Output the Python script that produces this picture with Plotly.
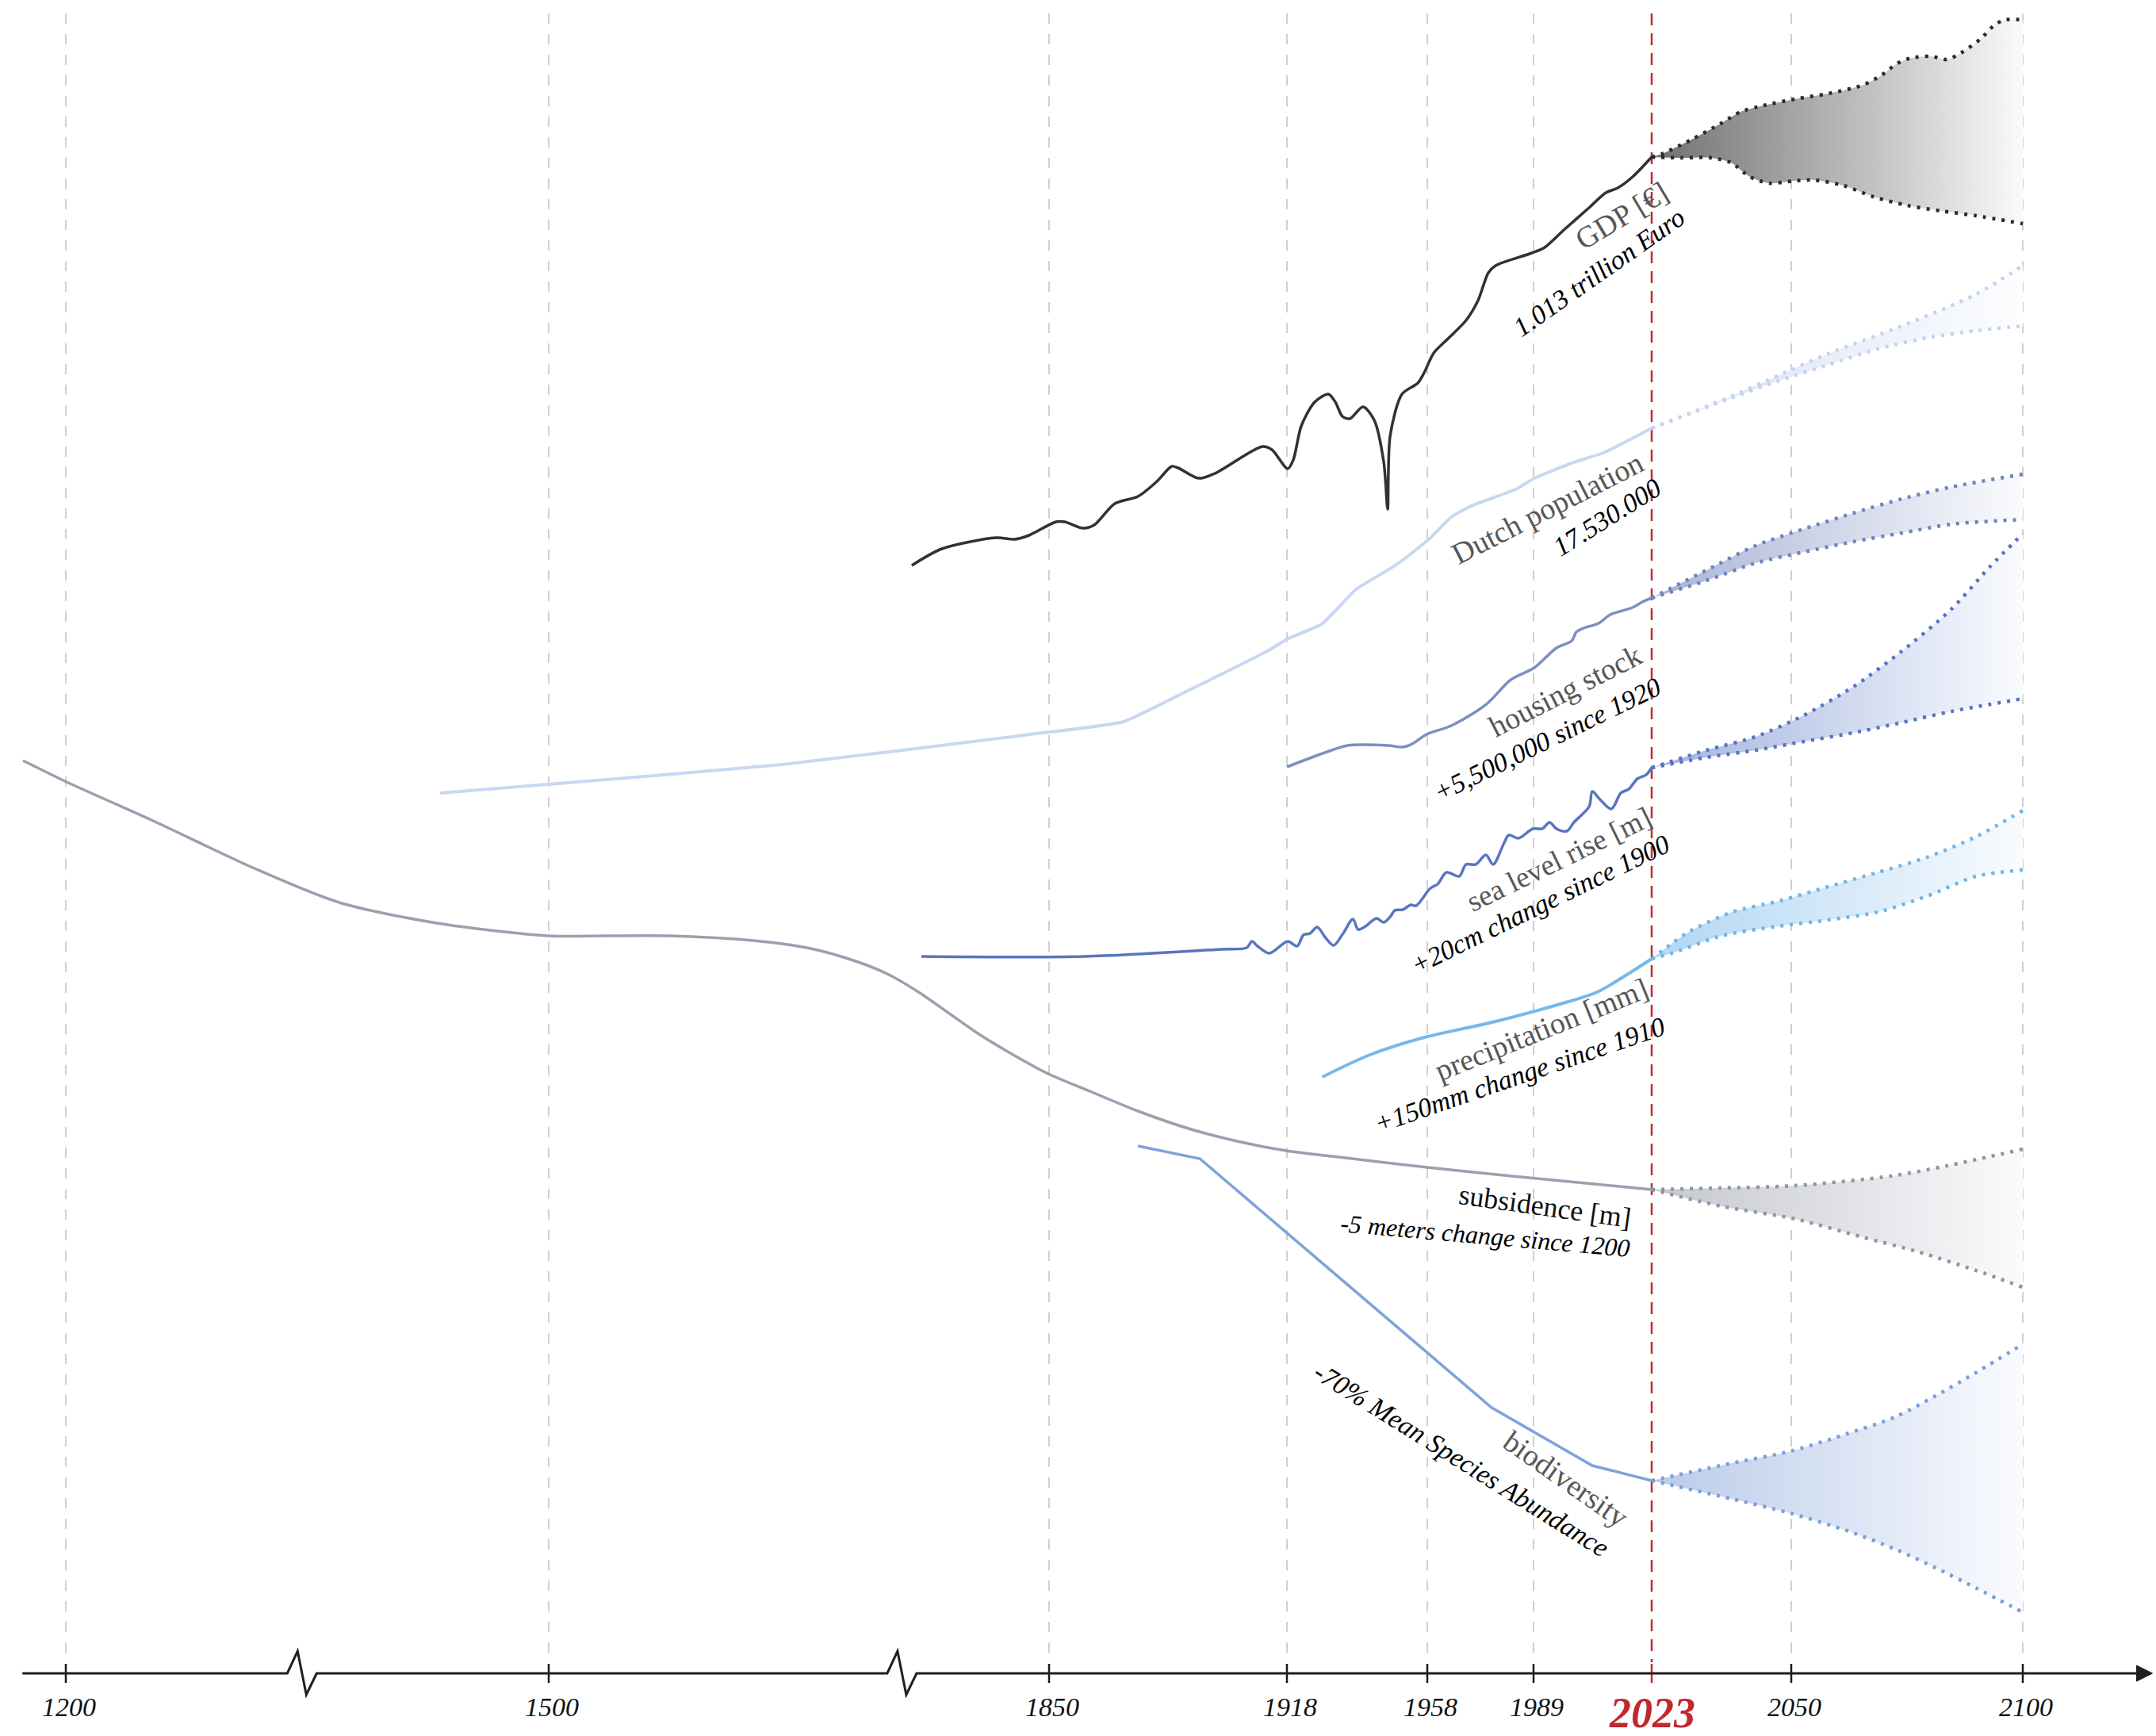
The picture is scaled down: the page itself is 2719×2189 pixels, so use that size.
import numpy as np
import plotly.graph_objects as go

# ---------------- time scale (broken axis) ----------------
ANCHOR_YEARS = [1200, 1500, 1850, 1918, 1958, 1989, 2023, 2050, 2100]
ANCHOR_POS = [83, 692, 1323, 1623, 1800, 1934, 2083, 2259, 2551]
TICK_YEARS = [1200, 1500, 1850, 1918, 1958, 1989, 2023, 2050, 2100]
BREAK_YEARS = [1344, 1744]
AXIS_START_YEAR, AXIS_END_YEAR = 1173, 2128


def xpos(years):
    y = np.asarray(years, dtype=float)
    out = np.interp(y, ANCHOR_YEARS, ANCHOR_POS)
    lo = (ANCHOR_POS[1] - ANCHOR_POS[0]) / (ANCHOR_YEARS[1] - ANCHOR_YEARS[0])
    hi = (ANCHOR_POS[-1] - ANCHOR_POS[-2]) / (ANCHOR_YEARS[-1] - ANCHOR_YEARS[-2])
    out = np.where(y < ANCHOR_YEARS[0], ANCHOR_POS[0] + (y - ANCHOR_YEARS[0]) * lo, out)
    out = np.where(y > ANCHOR_YEARS[-1], ANCHOR_POS[-1] + (y - ANCHOR_YEARS[-1]) * hi, out)
    return out

# ---------------- data (relative vertical level, 0 = top) ----------------
GDP_YEARS = [1754, 1775, 1813, 1826, 1836, 1852, 1854.5, 1859.7, 1862.9, 1868.8, 1875.4, 1880.6, 1885.1,
             1886.9, 1892.8, 1897.4, 1911.0, 1913.7, 1918.2, 1919.8, 1922.1, 1925.9, 1929.8, 1931.8, 1933.8,
             1935.9, 1939.7, 1942.9, 1945.6, 1946.7, 1947.4, 1950.8, 1955.3, 1957.1, 1959.9, 1964.3, 1969.3,
             1972.8, 1975.8, 1977.9, 1988.5, 1992.2, 1997.7, 2004.7, 2009.8, 2013.2, 2017.5, 2023]
GDP_LEVEL = [713, 692, 678, 680, 675, 658, 658, 666, 662, 635, 626, 608, 588, 590, 603, 597, 563, 567, 591,
             580, 537, 507, 497, 507, 525, 528, 513, 530, 583, 642, 550, 497, 483, 470, 445, 426, 404, 379,
             344, 335, 319, 312, 290, 263, 243, 237, 223, 198]
GDP_HI_YEARS = [2023, 2025, 2030.7, 2036.3, 2040.2, 2044, 2050.7, 2058, 2065.6, 2069.7, 2072.9, 2076, 2080.3,
                2083.6, 2086.6, 2090.9, 2094, 2096.2, 2100]
GDP_HI = [198, 194, 176, 156, 141, 134, 125, 118, 107, 94, 80, 73, 71, 75, 67, 49, 31, 25, 25]
GDP_LO_YEARS = [2023, 2028.8, 2034.5, 2038.3, 2042, 2045.8, 2050.7, 2055, 2061.3, 2067.7, 2075, 2082.4, 2089.9, 2100]
GDP_LO = [198, 199, 199, 205, 223, 231, 228, 227, 234, 248, 259, 266, 272, 282]

POP_YEARS = [1432.5, 1499.5, 1663.6, 1837.2, 1871.3, 1890.1, 1912.8, 1918, 1927.9, 1932.5, 1937.7, 1946.7,
             1950.8, 1955.1, 1958.5, 1965, 1970.8, 1983.8, 1989.2, 2000.6, 2009.1, 2023]
POP_LEVEL = [1000, 989, 964, 926, 910, 870, 820, 806, 787, 767, 743, 719, 707, 692, 680, 652, 638, 617, 603,
             583, 571, 540]
POP_HI_YEARS = [2023, 2038.3, 2047.7, 2058, 2073.9, 2089.9, 2100]
POP_HI = [540, 500, 473, 446, 411, 371, 335]
POP_LO_YEARS = [2023, 2038.3, 2047.7, 2058, 2068.7, 2079.3, 2089.9, 2100]
POP_LO = [540, 502, 480, 460, 440, 426, 417, 411]

HOUSING_YEARS = [1918, 1930.1, 1935.3, 1946.7, 1951, 1953.7, 1957.8, 1965, 1975.2, 1982.4, 1989.2, 1995.6,
                 2000, 2001.3, 2003.4, 2007.7, 2011.1, 2017.5, 2020.3, 2023]
HOUSING_LEVEL = [967, 947, 940, 940, 942, 938, 926, 915, 888, 857, 842, 817, 808, 797, 792, 786, 775, 766, 759, 754]
HOUSING_FC_YEARS = [2023, 2033.6, 2043.1, 2052.7, 2063.4, 2073.9, 2084.6, 2100]
HOUSING_HI = [754, 719, 688, 667, 647, 629, 614, 598]
HOUSING_LO = [754, 732, 710, 696, 683, 672, 661, 655]

SEA_YEARS = [1760.7, 1860.2, 1899.2, 1906.5, 1908.0, 1909.6, 1913.0, 1918.2, 1920.9, 1922.7, 1924.6, 1926.6,
             1929.1, 1931.3, 1934.0, 1936.8, 1938.3, 1940.4, 1943.5, 1945.6, 1947.6, 1948.7, 1951.0, 1953.3,
             1954.8, 1958.9, 1961.0, 1963.6, 1967.3, 1969.3, 1972.1, 1975.1, 1977.2, 1980.4, 1981.8, 1984.6,
             1988.8, 1991.5, 1993.6, 1995.6, 1998.6, 2000.6, 2005.0, 2005.9, 2007.9, 2011.4, 2014.1, 2016.4,
             2018.9, 2021.4, 2023]
SEA_LEVEL = [1206, 1206, 1197, 1195, 1187, 1193, 1202, 1187, 1193, 1179, 1177, 1169, 1183, 1192, 1177, 1159,
             1172, 1168, 1158, 1163, 1155, 1148, 1147, 1141, 1142, 1120, 1115, 1100, 1105, 1090, 1090, 1078,
             1090, 1063, 1053, 1057, 1045, 1045, 1037, 1045, 1048, 1037, 1017, 998, 1007, 1020, 1000, 995,
             982, 977, 968]
SEA_HI_YEARS = [2023, 2033.6, 2043.1, 2052.7, 2063.4, 2073.9, 2084.6, 2093, 2100]
SEA_HI = [968, 946, 929, 902, 866, 821, 768, 714, 673]
SEA_LO_YEARS = [2023, 2033.6, 2043.1, 2052.7, 2063.4, 2073.9, 2084.6, 2100]
SEA_LO = [968, 955, 946, 935, 924, 911, 897, 881]

PRECIP_YEARS = [1928.1, 1941.7, 1956.4, 1977.9, 1999, 2007.3, 2015.5, 2023]
PRECIP_LEVEL = [1358, 1330, 1309, 1288, 1263, 1251, 1230, 1209]
PRECIP_HI_YEARS = [2023, 2030.2, 2038.6, 2047.7, 2058, 2068.7, 2079.3, 2089.9, 2100]
PRECIP_HI = [1209, 1175, 1150, 1136, 1118, 1100, 1081, 1055, 1022]
PRECIP_LO_YEARS = [2023, 2027.8, 2036.5, 2047.4, 2058, 2068.7, 2079.3, 2089.9, 2100]
PRECIP_LO = [1209, 1200, 1180, 1168, 1160, 1150, 1130, 1105, 1097]

SUBS_YEARS = [1173.4, 1200.5, 1253.2, 1317.2, 1369.9, 1430.5, 1499.5, 1540.5, 1583.2, 1643.1, 1680.3, 1708.0,
              1735.7, 1757.9, 1781.8, 1800.1, 1827.8, 1849.4, 1862.2, 1875.4, 1890.6, 1905.8, 1917.8, 1930.9,
              1958, 1982.7, 2023]
SUBS_LEVEL = [959, 986, 1034, 1095, 1138, 1164, 1180, 1180, 1180, 1186, 1195, 1208, 1227, 1250, 1280, 1303,
              1333, 1354, 1377, 1401, 1424, 1441, 1451, 1458, 1472, 1483, 1500]
SUBS_HI_YEARS = [2023, 2036.5, 2050.8, 2071.5, 2083.6, 2100]
SUBS_HI = [1500, 1498, 1495, 1483, 1470, 1449]
SUBS_LO_YEARS = [2023, 2036.5, 2050.8, 2065.4, 2077.7, 2089.9, 2100]
SUBS_LO = [1500, 1521, 1537, 1560, 1579, 1602, 1623]

BIO_YEARS = [1875.4, 1893.1, 1976.8, 2005.9, 2023]
BIO_LEVEL = [1445, 1461, 1775, 1848, 1867]
BIO_FC_YEARS = [2023, 2038.5, 2049.8, 2062, 2072.3, 2081.2, 2090.1, 2100]
BIO_HI = [1867, 1845, 1830, 1808, 1787, 1760, 1730, 1695]
BIO_LO = [1867, 1890, 1908, 1930, 1953, 1977, 2003, 2033]

W, H = 2719, 2189
AXIS_Y = 2110
SERIF = "Liberation Serif"

fig = go.Figure()


def add_series(years, level, color, width=3.5, shape="spline", smoothing=0.9):
    fig.add_trace(go.Scatter(x=xpos(years), y=level, mode="lines",
                             line=dict(color=color, width=width, shape=shape, smoothing=smoothing),
                             hoverinfo="skip", showlegend=False))


def add_forecast(hi_years, hi, lo_years, lo, dot_color, c0, c1):
    fig.add_trace(go.Scatter(x=xpos(lo_years), y=lo, mode="lines",
                             line=dict(color=dot_color, width=4.5, dash="4px,8px", shape="spline", smoothing=0.8),
                             hoverinfo="skip", showlegend=False))
    fig.add_trace(go.Scatter(x=xpos(hi_years), y=hi, mode="lines", fill="tonexty",
                             fillgradient=dict(type="horizontal", colorscale=[[0, c0], [1, c1]]),
                             line=dict(color=dot_color, width=4.5, dash="4px,8px", shape="spline", smoothing=0.8),
                             hoverinfo="skip", showlegend=False))


# forecasts (fills first)
add_forecast(GDP_HI_YEARS, GDP_HI, GDP_LO_YEARS, GDP_LO, "#2b2b2b", "rgb(112,112,112)", "rgb(250,250,250)")
add_forecast(POP_HI_YEARS, POP_HI, POP_LO_YEARS, POP_LO, "#c3d2ef", "rgb(214,224,244)", "rgb(253,253,255)")
add_forecast(HOUSING_FC_YEARS, HOUSING_HI, HOUSING_FC_YEARS, HOUSING_LO, "#6c83bf", "rgb(168,180,214)", "rgb(251,251,253)")
add_forecast(SEA_HI_YEARS, SEA_HI, SEA_LO_YEARS, SEA_LO, "#5573c0", "rgb(160,178,222)", "rgb(250,251,254)")
add_forecast(PRECIP_HI_YEARS, PRECIP_HI, PRECIP_LO_YEARS, PRECIP_LO, "#6db6ea", "rgb(178,214,242)", "rgb(248,251,254)")
add_forecast(SUBS_HI_YEARS, SUBS_HI, SUBS_LO_YEARS, SUBS_LO, "#8e95a3", "rgb(196,199,206)", "rgb(251,251,252)")
add_forecast(BIO_FC_YEARS, BIO_HI, BIO_FC_YEARS, BIO_LO, "#7a9edb", "rgb(185,203,233)", "rgb(250,251,254)")

# historic series
add_series(SUBS_YEARS, SUBS_LEVEL, "#99a1ae", 3.5, smoothing=0.8)
add_series(POP_YEARS, POP_LEVEL, "#c9d7f1", 4, smoothing=0.4)
add_series(GDP_YEARS, GDP_LEVEL, "#2e3335", 3.5, smoothing=0.8)
add_series(HOUSING_YEARS, HOUSING_LEVEL, "#7c8fc2", 3.5)
add_series(SEA_YEARS, SEA_LEVEL, "#5876bf", 3.5, smoothing=0.9)
add_series(PRECIP_YEARS, PRECIP_LEVEL, "#76b8ea", 4)
add_series(BIO_YEARS, BIO_LEVEL, "#7fa2da", 3.5, shape="linear")

shapes = []
annotations = []

# vertical dashed gridlines
for yr in TICK_YEARS:
    px = float(xpos([yr])[0])
    is_now = yr == 2023
    shapes.append(dict(type="line", xref="x", yref="y", x0=px, x1=px, y0=17, y1=AXIS_Y - 14,
                       line=dict(color="#c42a2e" if is_now else "#d0d0d0", width=2.5 if is_now else 2,
                                 dash="15px,10px" if is_now else "13px,13px"),
                       layer="below"))
    shapes.append(dict(type="line", xref="x", yref="y", x0=px, x1=px, y0=AXIS_Y - 12, y1=AXIS_Y + 12,
                       line=dict(color="#c42a2e" if is_now else "#1a1a1a", width=2.5)))
    if is_now:
        annotations.append(dict(x=px, y=2160, xref="x", yref="y", text="<b><i>2023</i></b>", showarrow=False,
                                font=dict(family=SERIF, size=54, color="#c1272d"), xanchor="center", yanchor="middle"))
    else:
        annotations.append(dict(x=px + 4, y=2152, xref="x", yref="y", text="<i>%d</i>" % yr, showarrow=False,
                                font=dict(family=SERIF, size=34, color="#111111"), xanchor="center", yanchor="middle"))

# time axis with break zigzags and arrow
bx = [float(v) for v in xpos(BREAK_YEARS)]
x_start = float(xpos([AXIS_START_YEAR])[0])
x_end = float(xpos([AXIS_END_YEAR])[0])
path = "M %.1f %d" % (x_start, AXIS_Y)
for b in bx:
    path += " L %.1f %d L %.1f %d L %.1f %d L %.1f %d" % (b - 13, AXIS_Y, b, AXIS_Y - 28, b + 11, AXIS_Y + 27, b + 24, AXIS_Y)
path += " L %.1f %d" % (x_end - 10, AXIS_Y)
shapes.append(dict(type="path", xref="x", yref="y", path=path, line=dict(color="#1f1f1f", width=3)))
shapes.append(dict(type="path", xref="x", yref="y",
                   path="M %.1f %d L %.1f %d L %.1f %d Z" % (x_end - 20, AXIS_Y - 10, x_end, AXIS_Y, x_end - 20, AXIS_Y + 10),
                   fillcolor="#1f1f1f", line=dict(color="#1f1f1f", width=1)))

# rotated series labels
GRAY = "#575757"
LABELS = [
    ("GDP [€]", 2045, 272, -31, 38, GRAY, False),
    ("1.013 trillion Euro", 2016, 343, -35, 34, "#000000", True),
    ("Dutch population", 1951, 641, -27, 38, GRAY, False),
    ("17.530.000", 2026, 652, -32, 34, "#000000", True),
    ("housing stock", 1974, 871, -27, 38, GRAY, False),
    ("+5,500,000 since 1920", 1951, 932, -26, 34, "#000000", True),
    ("sea level rise [m]", 1966, 1083, -26, 37, GRAY, False),
    ("+20cm change since 1900", 1942, 1140, -26, 34, "#000000", True),
    ("precipitation [mm]", 1944, 1298, -22, 38, GRAY, False),
    ("+150mm change since 1910", 1916, 1355, -19, 34, "#000000", True),
    ("subsidence [m]", 1948, 1521, 8, 36, "#111111", False),
    ("-5 meters change since 1200", 1873, 1558, 5, 32, "#000000", True),
    ("biodiversity", 1975, 1865, 35, 38, GRAY, False),
    ("-70% Mean Species Abundance", 1843, 1840, 32, 34, "#000000", True),
]
for text, lx, ly, ang, size, col, ital in LABELS:
    annotations.append(dict(x=lx, y=ly, xref="x", yref="y", text=("<i>%s</i>" % text) if ital else text,
                            showarrow=False, textangle=ang, xanchor="center", yanchor="middle",
                            font=dict(family=SERIF, size=size, color=col)))

fig.update_layout(
    width=W, height=H, margin=dict(l=0, r=0, t=0, b=0),
    paper_bgcolor="white", plot_bgcolor="white",
    xaxis=dict(range=[0, W], visible=False, fixedrange=True),
    yaxis=dict(range=[H, 0], visible=False, fixedrange=True),
    shapes=shapes, annotations=annotations, showlegend=False,
)

fig.write_html("out.html", config={"displayModeBar": False},
               post_script="document.body.style.margin='0';document.body.style.overflow='hidden';")
